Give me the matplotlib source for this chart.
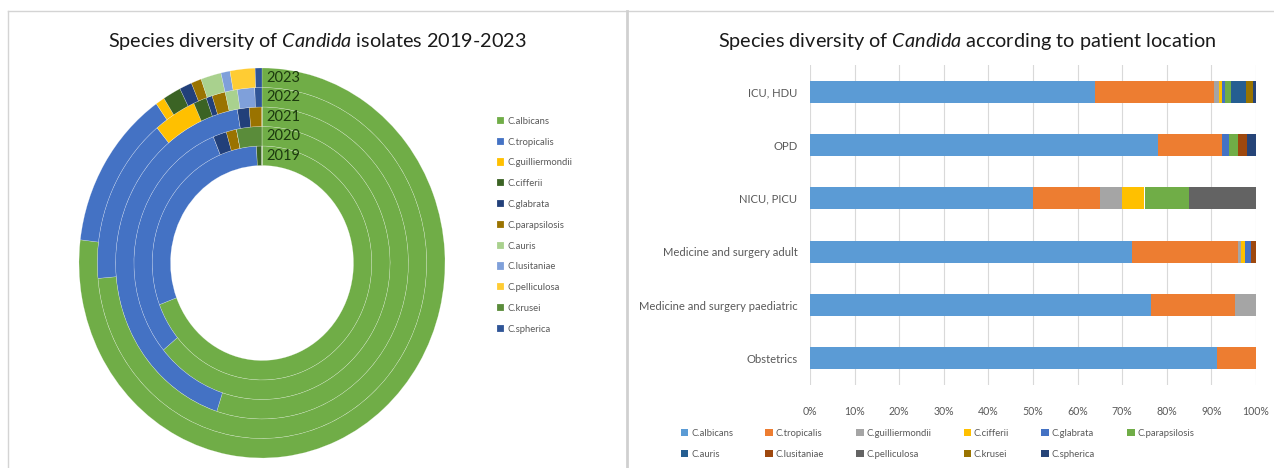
import numpy as np
import matplotlib
matplotlib.use('Agg')
import matplotlib.pyplot as plt
from matplotlib.lines import Line2D

plt.rcParams['font.family'] = ['Lato', 'DejaVu Sans']
plt.rcParams['mathtext.fontset'] = 'custom'
plt.rcParams['mathtext.rm'] = 'Lato'
plt.rcParams['mathtext.it'] = 'Lato:italic'

# --- data ---
species = ['C.albicans', 'C.tropicalis', 'C.guilliermondii', 'C.cifferii', 'C.glabrata',
           'C.parapsilosis', 'C.auris', 'C.lusitaniae', 'C.pelliculosa', 'C.krusei', 'C.spherica']

# yearly share (%) for the doughnut, species order as above
years = ['2019', '2020', '2021', '2022', '2023']
y2019 = [69.2, 30.0, 0, 0.8, 0, 0, 0, 0, 0, 0, 0]
y2020 = [64.0, 29.8, 0, 0, 1.7, 1.3, 0, 0, 0, 3.2, 0]
y2021 = [55.0, 42.3, 0, 0, 1.3, 1.4, 0, 0, 0, 0, 0]
y2022 = [73.6, 15.4, 4.2, 1.3, 0.6, 1.3, 1.2, 1.7, 0, 0, 0.7]
y2023 = [76.9, 13.3, 0.8, 1.6, 1.1, 0.9, 1.8, 0.8, 2.2, 0, 0.6]
year_data = [y2019, y2020, y2021, y2022, y2023]

# share (%) by patient location for the stacked bars
locations = ['ICU, HDU', 'OPD', 'NICU, PICU', 'Medicine and surgery adult',
             'Medicine and surgery paediatric', 'Obstetrics']
albicans = [63.8, 78.1, 50, 72.1, 76.4, 91.3]
tropicalis = [26.7, 14.2, 15, 23.8, 18.9, 8.7]
guilliermondii = [1.3, 0, 5, 0.7, 4.7, 0]
cifferii = [0.5, 0, 5, 0.9, 0, 0]
glabrata = [0.8, 1.6, 0, 1.3, 0, 0]
parapsilosis = [1.3, 2.0, 10, 0, 0, 0]
auris = [3.4, 0, 0, 0, 0, 0]
lusitaniae = [0, 2.1, 0, 1.2, 0, 0]
pelliculosa = [0, 0, 15, 0, 0, 0]
krusei = [1.5, 0, 0, 0, 0, 0]
spherica = [0.7, 2.0, 0, 0, 0, 0]
loc_data = [albicans, tropicalis, guilliermondii, cifferii, glabrata, parapsilosis,
            auris, lusitaniae, pelliculosa, krusei, spherica]

donut_colors = ['#70AD47', '#4472C4', '#FFC000', '#3B6324', '#22407A', '#9A7300',
                '#A9D18E', '#7FA0DA', '#FFCC33', '#5A8C3A', '#2F5597']
bar_colors = ['#5B9BD5', '#ED7D31', '#A5A5A5', '#FFC000', '#4472C4', '#70AD47',
              '#255E91', '#9E480E', '#636363', '#997300', '#264478']

W, H = 1274, 468
fig = plt.figure(figsize=(W / 100, H / 100), dpi=100)

# --- panel frames ---
line_c = '#D4D4D4'
fig.add_artist(Line2D([8 / W, 1], [1 - 11 / H] * 2, color=line_c, lw=1))
fig.add_artist(Line2D([8 / W] * 2, [0, 1 - 11 / H], color=line_c, lw=1))
fig.add_artist(Line2D([627 / W] * 2, [0, 1 - 11 / H], color='#D0D0D0', lw=2))

# --- left: doughnut ---
ax1 = fig.add_axes([79 / W, 1 - 458 / H, 366 / W, 390 / H])
ring_w = 0.1
wedges = None
for i, vals in enumerate(year_data):
    r = 0.6 + ring_w * i
    w, _ = ax1.pie(vals, radius=r, colors=donut_colors, startangle=90, counterclock=False,
                   wedgeprops=dict(width=ring_w, edgecolor=(1, 1, 1, 0.45), linewidth=0.3))
    if i == len(year_data) - 1:
        wedges = w
    ax1.text(0.025, r - ring_w / 2, years[i], ha='left', va='center',
             fontsize=10.5, color='#1C3A0E')
ax1.set_aspect('auto')
ax1.set_xlim(-1, 1)
ax1.set_ylim(-1, 1)
ax1.axis('off')

fig.text(317 / W, 1 - 41 / H, 'Species diversity of $\\it{Candida}$ isolates 2019-2023',
         ha='center', va='center', fontsize=14.3, color='#1a1a1a')

fig.legend(wedges, species, loc='upper left', bbox_to_anchor=(492 / W, 1 - 112 / H),
           frameon=False, fontsize=6.8, labelcolor='#595959', handlelength=0.8,
           handleheight=0.8, handletextpad=0.3, labelspacing=1.25, borderpad=0)

# --- right: stacked bars ---
ax2 = fig.add_axes([810 / W, 1 - 385 / H, 446 / W, 320 / H])
ypos = np.arange(len(locations))
left = np.zeros(len(locations))
bars = []
for vals, c, name in zip(loc_data, bar_colors, species):
    b = ax2.barh(ypos, vals, left=left, height=0.41, color=c, label=name, zorder=3)
    bars.append(b)
    left += np.array(vals)
ax2.set_ylim(len(locations) - 0.5, -0.5)
ax2.set_xlim(0, 100)
ax2.set_xticks(np.arange(0, 101, 10))
ax2.set_xticklabels([f'{v}%' for v in range(0, 101, 10)])
ax2.set_yticks(ypos)
ax2.set_yticklabels(locations)
ax2.tick_params(axis='both', length=0, labelcolor='#595959')
ax2.tick_params(axis='x', pad=15, labelsize=7.6)
ax2.tick_params(axis='y', pad=9, labelsize=8.1)
ax2.grid(axis='x', color='#D9D9D9', lw=0.8, zorder=0)
for s in ax2.spines.values():
    s.set_visible(False)

fig.text(967 / W, 1 - 41 / H, 'Species diversity of $\\it{Candida}$ according to patient location',
         ha='center', va='center', fontsize=14.3, color='#1a1a1a')

# legend rows: fill row-wise (6 per row)
order = [0, 6, 1, 7, 2, 8, 3, 9, 4, 10, 5]
fig.legend([bars[k] for k in order], [species[k] for k in order], ncol=6,
           loc='center left', bbox_to_anchor=(676 / W, 1 - 444 / H), frameon=False,
           fontsize=6.8, labelcolor='#595959', handlelength=0.8, handleheight=0.8,
           handletextpad=0.3, labelspacing=1.3, columnspacing=3.4, borderpad=0)

fig.savefig('out.png', dpi=100)
